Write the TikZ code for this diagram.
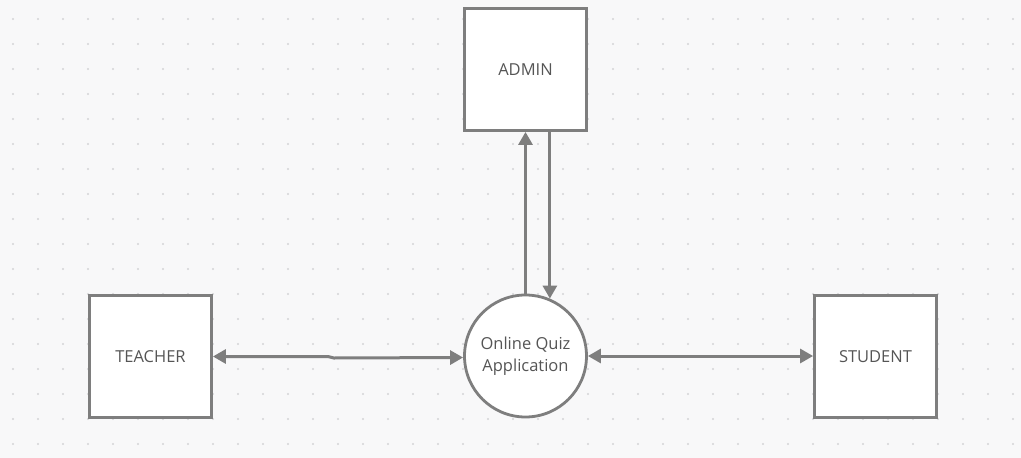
\documentclass[tikz,border=0pt]{standalone}
\usepackage{fontspec}
\setmainfont{Open Sans}
\usetikzlibrary{arrows.meta}
\definecolor{paper}{HTML}{F8F8F9}
\definecolor{dotgray}{HTML}{D4D4D6}
\definecolor{edgegray}{HTML}{7E7E7E}
\definecolor{inkgray}{HTML}{555555}
\tikzset{
>={Triangle[length=13pt,width=14pt]},
entity node/.style={draw=edgegray,line width=2.8pt,fill=white,minimum size=122pt,inner sep=0pt,text=inkgray,font=\fontsize{16.5}{19}\selectfont},
process node/.style={circle,draw=edgegray,line width=2.8pt,fill=white,minimum size=122pt,inner sep=0pt,align=center,text=inkgray,font=\fontsize{16.5}{22}\selectfont},
flusso/.style={->,draw=edgegray,line width=3pt}}

\begin{document}
\begin{tikzpicture}[x=1pt,y=-1pt]

\useasboundingbox[fill=paper] (0,0) rectangle (1021,458);
\foreach \i in {0,...,40}
  \foreach \j in {0,...,17}
    \fill[dotgray] (13+25*\i,19+25*\j) circle (1.2pt);

\node[entity node] (admin) at (525.5,69.5) {ADMIN};
\node[entity node] (teacher) at (150.5,356.5) {TEACHER};
\node[entity node] (student) at (875.5,356.5) {STUDENT};
\node[process node] (app) at (525.5,356) {Online Quiz\\Application};

\draw[flusso] (app.north) -- (app.north |- admin.south);
\draw[flusso] (admin.south -| app.67) -- (app.67);
\draw[flusso,<->] (teacher.east) -- ++(115,0) -- ++(6,1.5) -- ([yshift=-1.5pt]app.west);
\draw[flusso,<->] (app.east) -- (app.east -| student.west);

\end{tikzpicture}
\end{document}
